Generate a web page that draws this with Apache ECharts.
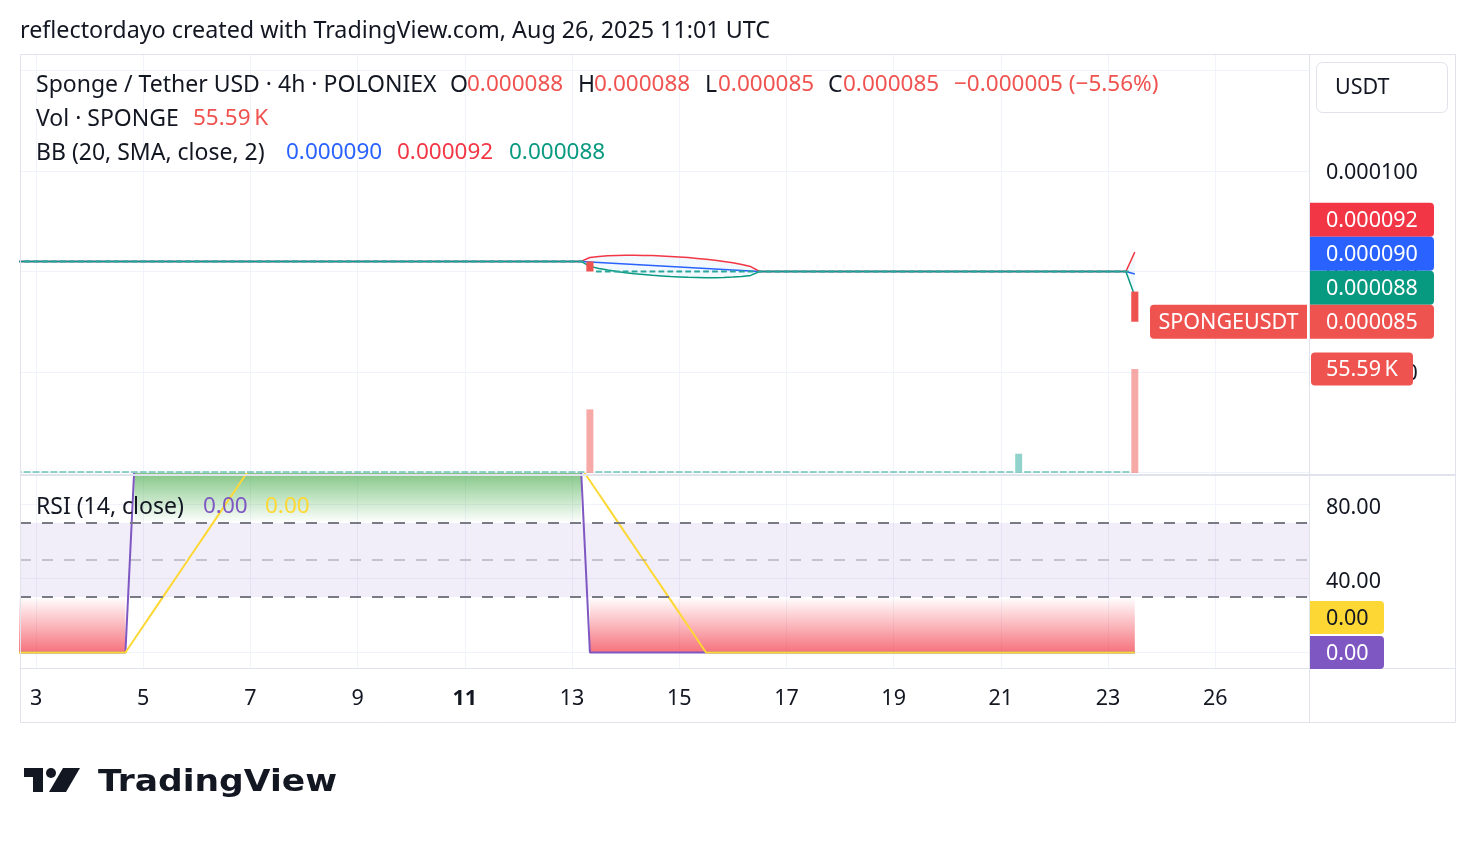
<!DOCTYPE html>
<html>
<head>
<meta charset="utf-8">
<title>SPONGEUSDT 4h · POLONIEX</title>
<script src="https://cdn.jsdelivr.net/npm/echarts@6/dist/echarts.min.js"></script>
<style>
  html, body { margin: 0; padding: 0; background: #fff; }
  #main { width: 1476px; height: 844px; }
</style>
</head>
<body>
<div id="main"></div>
<script>
// 4h bars. bar 0 = Aug 3 00:00 UTC, the arrays start two bars earlier (Aug 2 16:00)
var firstBar = -2;

// prices in units of 0.000001 USDT, 20 bars per row (row start bar in comment)
var openPx = [
  91,91,91,91,91,91,91,91,91,91,91,91,91,91,91,91,91,91,91,91, // -2
  91,91,91,91,91,91,91,91,91,91,91,91,91,91,91,91,91,91,91,91, // 18
  91,91,91,91,91,91,91,91,91,91,91,91,91,91,91,91,91,91,91,91, // 38
  91,91,91,91,91,90,90,90,90,90,90,90,90,90,90,90,90,90,90,90, // 58
  90,90,90,90,90,90,90,90,90,90,90,90,90,90,90,90,90,90,90,90, // 78
  90,90,90,90,90,90,90,90,90,90,90,90,90,90,90,90,90,90,90,90, // 98
  90,90,90,90,90,88                                            // 118
];
var closePx = [
  91,91,91,91,91,91,91,91,91,91,91,91,91,91,91,91,91,91,91,91,
  91,91,91,91,91,91,91,91,91,91,91,91,91,91,91,91,91,91,91,91,
  91,91,91,91,91,91,91,91,91,91,91,91,91,91,91,91,91,91,91,91,
  91,91,91,91,90,90,90,90,90,90,90,90,90,90,90,90,90,90,90,90,
  90,90,90,90,90,90,90,90,90,90,90,90,90,90,90,90,90,90,90,90,
  90,90,90,90,90,90,90,90,90,90,90,90,90,90,90,90,90,90,90,90,
  90,90,90,90,90,85
];
// volume in SPONGE
var volume = [
  0,0,0,0,0,0,0,0,0,0,0,0,0,0,0,0,0,0,0,0,
  0,0,0,0,0,0,0,0,0,0,0,0,0,0,0,0,0,0,0,0,
  0,0,0,0,0,0,0,0,0,0,0,0,0,0,0,0,0,0,0,0,
  0,0,0,0,34000,0,0,0,0,0,0,0,0,0,0,0,0,0,0,0,
  0,0,0,0,0,0,0,0,0,0,0,0,0,0,0,0,0,0,0,0,
  0,0,0,0,0,0,0,0,0,0,0,0,10300,0,0,0,0,0,0,0,
  0,0,0,0,0,55590
];
// Bollinger bands (20, SMA, close, 2), units of 0.000001
var bbUpper = [
  91,91,91,91,91,91,91,91,91,91,91,91,91,91,91,91,91,91,91,91,
  91,91,91,91,91,91,91,91,91,91,91,91,91,91,91,91,91,91,91,91,
  91,91,91,91,91,91,91,91,91,91,91,91,91,91,91,91,91,91,91,91,
  91,91,91,91,91.39,91.5,91.56,91.6,91.62,91.62,91.6,91.58,91.55,91.5,91.45,91.38,91.3,91.22,91.12,91.0,
  90.86,90.7,90.49,90,90,90,90,90,90,90,90,90,90,90,90,90,90,90,90,90,
  90,90,90,90,90,90,90,90,90,90,90,90,90,90,90,90,90,90,90,90,
  90,90,90,90,90,91.93
];
var bbBasis = [
  91,91,91,91,91,91,91,91,91,91,91,91,91,91,91,91,91,91,91,91,
  91,91,91,91,91,91,91,91,91,91,91,91,91,91,91,91,91,91,91,91,
  91,91,91,91,91,91,91,91,91,91,91,91,91,91,91,91,91,91,91,91,
  91,91,91,91,90.95,90.9,90.85,90.8,90.75,90.7,90.65,90.6,90.55,90.5,90.45,90.4,90.35,90.3,90.25,90.2,
  90.15,90.1,90.05,90,90,90,90,90,90,90,90,90,90,90,90,90,90,90,90,90,
  90,90,90,90,90,90,90,90,90,90,90,90,90,90,90,90,90,90,90,90,
  90,90,90,90,90,89.75
];
var bbLower = [
  91,91,91,91,91,91,91,91,91,91,91,91,91,91,91,91,91,91,91,91,
  91,91,91,91,91,91,91,91,91,91,91,91,91,91,91,91,91,91,91,91,
  91,91,91,91,91,91,91,91,91,91,91,91,91,91,91,91,91,91,91,91,
  91,91,91,91,90.51,90.3,90.14,90.0,89.88,89.78,89.7,89.62,89.56,89.5,89.46,89.42,89.4,89.38,89.38,89.4,
  89.44,89.5,89.61,90,90,90,90,90,90,90,90,90,90,90,90,90,90,90,90,90,
  90,90,90,90,90,90,90,90,90,90,90,90,90,90,90,90,90,90,90,90,
  90,90,90,90,90,87.57
];
// RSI (14, close) and its SMA
var rsi = [
  0,0,0,0,0,0,0,0,0,0,0,0,0,100,100,100,100,100,100,100,
  100,100,100,100,100,100,100,100,100,100,100,100,100,100,100,100,100,100,100,100,
  100,100,100,100,100,100,100,100,100,100,100,100,100,100,100,100,100,100,100,100,
  100,100,100,100,0,0,0,0,0,0,0,0,0,0,0,0,0,0,0,0,
  0,0,0,0,0,0,0,0,0,0,0,0,0,0,0,0,0,0,0,0,
  0,0,0,0,0,0,0,0,0,0,0,0,0,0,0,0,0,0,0,0,
  0,0,0,0,0,0
];
var rsiMa = [
  0,0,0,0,0,0,0,0,0,0,0,0,0,7.14,14.29,21.43,28.57,35.71,42.86,50,
  57.14,64.29,71.43,78.57,85.71,92.86,100,100,100,100,100,100,100,100,100,100,100,100,100,100,
  100,100,100,100,100,100,100,100,100,100,100,100,100,100,100,100,100,100,100,100,
  100,100,100,100,92.86,85.71,78.57,71.43,64.29,57.14,50,42.86,35.71,28.57,21.43,14.29,7.14,0,0,0,
  0,0,0,0,0,0,0,0,0,0,0,0,0,0,0,0,0,0,0,0,
  0,0,0,0,0,0,0,0,0,0,0,0,0,0,0,0,0,0,0,0,
  0,0,0,0,0,0
];
// time axis: bar index of each date label
var timeTickBars = [0, 12, 24, 36, 48, 60, 72, 84, 96, 108, 120, 132];
var timeTickLabels = ['3', '5', '7', '9', '11', '13', '15', '17', '19', '21', '23', '26'];
var boldLabel = '11';
var rsiLevels = [70, 50, 30];

var E6 = 1e-6;
var FONT = 'Noto Sans';
var TEXT = '#131722';
var GRID = '#f0f3fa';
var BORDER = '#e0e3eb';
var UP = '#26a69a', DOWN = '#ef5350';
var RED = '#f23645', BLUE = '#2962ff', TEAL = '#089981';
var PURPLE = '#7e57c2', YELLOW = '#fdd835';
var AXF = 21.5;   // axis text size
var LEG = 23;     // legend words
var NUM = 22.5;   // legend numbers

function pts(arr, k) {
  return arr.map(function (v, i) { return [firstBar + i, v === '-' ? '-' : v * k]; });
}

var candleData = openPx.map(function (o, i) { return [firstBar + i, o * E6, closePx[i] * E6]; });
var volData = volume.map(function (v, i) { return [firstBar + i, v, closePx[i] >= openPx[i] ? 1 : 0]; });
// one quad per bar gap for the band background
var bandQuads = [];
for (var i = 0; i < bbUpper.length - 1; i++) {
  bandQuads.push([firstBar + i, bbUpper[i] * E6, bbLower[i] * E6, firstBar + i + 1, bbUpper[i + 1] * E6, bbLower[i + 1] * E6]);
}

function xAxis(gi, withLabels) {
  return {
    type: 'value', gridIndex: gi, min: -1.8, max: 142.5,
    axisLine: { show: false, onZero: false },
    axisTick: { show: false, customValues: timeTickBars },
    axisLabel: {
      show: withLabels, customValues: timeTickBars, margin: 20,
      fontSize: AXF, fontFamily: FONT, color: TEXT,
      formatter: function (v) {
        var t = timeTickLabels[timeTickBars.indexOf(v)];
        return t === boldLabel ? '{b|' + t + '}' : t;
      },
      rich: { b: { fontWeight: 'bold', fontSize: AXF, fontFamily: FONT, color: TEXT } }
    },
    splitLine: { show: true, lineStyle: { color: GRID, width: 1 } }
  };
}

// price-scale labels sit a little below their tick
function shifted(pad) {
  return { a: { fontSize: AXF, fontFamily: FONT, color: TEXT, padding: [pad, 0, 0, 0] } };
}

function line(name, data, color, width, xi, yi) {
  return {
    name: name, type: 'line', data: data, xAxisIndex: xi, yAxisIndex: yi,
    showSymbol: false, silent: true,
    lineStyle: { color: color, width: width }
  };
}

var chart = echarts.init(document.getElementById('main'));

var option = {
  animation: false,
  backgroundColor: '#ffffff',
  textStyle: { fontFamily: FONT },
  grid: [
    { left: 20, top: 54, width: 1289, height: 420, outerBoundsMode: 'none' },
    { left: 20, top: 474, width: 1289, height: 194, outerBoundsMode: 'none' }
  ],
  xAxis: [xAxis(0, false), xAxis(1, true)],
  yAxis: [
    {
      type: 'value', gridIndex: 0, position: 'right',
      min: 0.00006985, max: 0.00011164, splitNumber: 5,
      axisLine: { show: false, onZero: false }, axisTick: { show: false },
      axisLabel: {
        margin: 17, fontSize: AXF, fontFamily: FONT, color: TEXT,
        showMinLabel: false, showMaxLabel: false,
        // the pane edges carry no label
        formatter: function (v) { return (v < 0.000075 || v > 0.000105) ? '' : '{a|' + v.toFixed(6) + '}'; },
        rich: shifted(4)
      },
      splitLine: { lineStyle: { color: GRID, width: 1 } }
    },
    { type: 'value', gridIndex: 0, min: -535, max: 223960, show: false },
    {
      type: 'value', gridIndex: 1, position: 'right', min: -8.4, max: 96.5,
      axisLine: { show: false, onZero: false },
      axisTick: { show: false, customValues: [0, 40, 80] },
      axisLabel: {
        customValues: [40, 80], margin: 17, fontSize: AXF, fontFamily: FONT, color: TEXT,
        formatter: function (v) { return '{a|' + v.toFixed(2) + '}'; },
        rich: shifted(7)
      },
      splitLine: { lineStyle: { color: GRID, width: 1 } }
    }
  ],
  series: [
    {
      name: 'BB background', type: 'custom', xAxisIndex: 0, yAxisIndex: 0, clip: true, silent: true,
      data: bandQuads,
      renderItem: function (params, api) {
        var a = api.coord([api.value(0), api.value(1)]);
        var b = api.coord([api.value(3), api.value(4)]);
        var c = api.coord([api.value(3), api.value(5)]);
        var d = api.coord([api.value(0), api.value(2)]);
        return { type: 'polygon', shape: { points: [a, b, c, d] }, style: { fill: 'rgba(33,150,243,0.06)' } };
      }
    },
    line('Basis', pts(bbBasis, E6), BLUE, 1.5, 0, 0),
    line('Upper', pts(bbUpper, E6), RED, 1.5, 0, 0),
    line('Lower', pts(bbLower, E6), TEAL, 1.5, 0, 0),
    {
      name: 'Vol', type: 'custom', xAxisIndex: 0, yAxisIndex: 1, clip: true, silent: true,
      data: volData,
      renderItem: function (params, api) {
        var x = api.value(0);
        var top = api.coord([x, api.value(1)]);
        var base = api.coord([x, 0]);
        var w = api.size([1, 0])[0] * 0.78;
        var h = Math.max(base[1] - top[1], 2);
        return {
          type: 'rect',
          shape: { x: top[0] - w / 2, y: base[1] - h, width: w, height: h },
          style: { fill: api.value(2) ? 'rgba(38,166,154,0.5)' : 'rgba(239,83,80,0.5)' }
        };
      }
    },
    {
      name: 'SPONGEUSDT', type: 'custom', xAxisIndex: 0, yAxisIndex: 0, clip: true, silent: true, z: 5,
      data: candleData,
      renderItem: function (params, api) {
        var x = api.value(0), o = api.value(1), c = api.value(2);
        var po = api.coord([x, o]), pc = api.coord([x, c]);
        var w = api.size([1, 0])[0] * 0.8;
        var top = Math.min(po[1], pc[1]);
        var h = Math.abs(po[1] - pc[1]);
        if (h < 2) { top = po[1] - 1; h = 2; w = w * 0.8; }
        return {
          type: 'rect',
          shape: { x: po[0] - w / 2, y: top, width: w, height: h },
          style: { fill: c >= o ? UP : DOWN }
        };
      }
    },
    // RSI pane: overbought / oversold gradient fills
    {
      type: 'line', xAxisIndex: 1, yAxisIndex: 2, showSymbol: false, silent: true,
      data: pts(rsi.map(function (v) { return v >= 70 ? v : '-'; }), 1),
      lineStyle: { opacity: 0 },
      areaStyle: {
        origin: 70,
        color: new echarts.graphic.LinearGradient(0, 0, 0, 1, [
          { offset: 0, color: 'rgba(56,160,60,1)' },
          { offset: 0.45, color: 'rgba(76,175,80,0.6)' },
          { offset: 1, color: 'rgba(76,175,80,0)' }
        ])
      }
    },
    {
      type: 'line', xAxisIndex: 1, yAxisIndex: 2, showSymbol: false, silent: true,
      data: pts(rsi.map(function (v) { return v <= 30 ? v : '-'; }), 1),
      lineStyle: { opacity: 0 },
      areaStyle: {
        origin: 30,
        color: new echarts.graphic.LinearGradient(0, 0, 0, 1, [
          { offset: 0, color: 'rgba(242,54,69,0)' },
          { offset: 1, color: 'rgba(242,54,69,1)' }
        ])
      }
    },
    {
      name: 'RSI', type: 'line', xAxisIndex: 1, yAxisIndex: 2, showSymbol: false, silent: true,
      data: pts(rsi, 1),
      lineStyle: { color: PURPLE, width: 2 },
      markArea: {
        silent: true,
        itemStyle: { color: 'rgba(126,87,194,0.1)' },
        data: [[{ yAxis: rsiLevels[0] }, { yAxis: rsiLevels[2] }]]
      },
      markLine: {
        silent: true, symbol: 'none', label: { show: false },
        data: rsiLevels.map(function (lv) {
          return {
            yAxis: lv,
            lineStyle: lv === 50
              ? { color: 'rgba(120,123,134,0.5)', type: [11, 11], width: 1.5 }
              : { color: '#787b86', type: [11, 11], width: 2 }
          };
        })
      }
    },
    line('RSI MA', pts(rsiMa, 1), YELLOW, 2, 1, 2)
  ]
};
chart.setOption(option);

// ---- legends, price tags and frame ----
var n = closePx.length;
var last = n - 1;
function fmt(v) { return (v * E6).toFixed(6); }
var hiPx = Math.max(openPx[last], closePx[last]);
var loPx = Math.min(openPx[last], closePx[last]);
var chg = closePx[last] - closePx[last - 1];
var chgTxt = (chg < 0 ? '\u2212' : '+') + Math.abs(chg * E6).toFixed(6) +
  ' (' + (chg < 0 ? '\u2212' : '+') + Math.abs(chg / closePx[last - 1] * 100).toFixed(2) + '%)';
var volTxt = (volume[last] / 1000).toFixed(2) + '\u2009K';

function yPx(axis, v) { return chart.convertToPixel({ yAxisIndex: axis }, v); }

// stack tags upward from the close tag so they do not overlap
var TAGH = 34;
var closeY = yPx(0, closePx[last] * E6);
var lowerY = Math.min(yPx(0, bbLower[last] * E6), closeY - TAGH);
var basisY = Math.min(yPx(0, bbBasis[last] * E6), lowerY - TAGH);
var upperY = Math.min(yPx(0, bbUpper[last] * E6), basisY - TAGH);
var volY = yPx(1, volume[last]);
var rsiY = yPx(2, rsi[last]);
var rsiMaY = Math.min(yPx(2, rsiMa[last]), rsiY - 35);

function txt(x, y, str, fill, size, extra) {
  var st = { text: str, x: x, y: y, fill: fill, fontSize: size, fontFamily: FONT, verticalAlign: 'middle', align: 'left' };
  if (extra) { for (var k in extra) { st[k] = extra[k]; } }
  return { type: 'text', z: 120, silent: true, style: st };
}

function tag(cy, x, w, h, fill, label, color, r, centered) {
  return [
    { type: 'rect', z: 110, silent: true, shape: { x: x, y: cy - h / 2, width: w, height: h, r: r }, style: { fill: fill } },
    txt(centered ? x + w / 2 : 1326, cy + 1, label, color, AXF, centered ? { align: 'center' } : null)
  ];
}

var g = [];
// frame
g.push({ type: 'rect', z: 100, silent: true, shape: { x: 20.5, y: 54.5, width: 1435, height: 668 }, style: { fill: 'none', stroke: BORDER, lineWidth: 1 } });
g.push({ type: 'line', z: 100, silent: true, shape: { x1: 1309.5, y1: 54, x2: 1309.5, y2: 723 }, style: { stroke: BORDER, lineWidth: 1 } });
g.push({ type: 'line', z: 100, silent: true, shape: { x1: 20, y1: 475, x2: 1456, y2: 475 }, style: { stroke: BORDER, lineWidth: 2 } });
g.push({ type: 'line', z: 100, silent: true, shape: { x1: 20, y1: 668.5, x2: 1456, y2: 668.5 }, style: { stroke: BORDER, lineWidth: 1 } });

// header
g.push(txt(20, 31, 'reflectordayo created with TradingView.com, Aug 26, 2025 11:01 UTC', TEXT, 23.3));

// legend rows: [y, [x, text, colour, size]]
var legendRows = [
  [85, [[36, 'Sponge / Tether USD \u00b7 4h \u00b7 POLONIEX', TEXT, LEG],
        [450, 'O', TEXT, LEG], [467, fmt(openPx[last]), DOWN, NUM],
        [578, 'H', TEXT, LEG], [594, fmt(hiPx), DOWN, NUM],
        [705, 'L', TEXT, LEG], [718, fmt(loPx), DOWN, NUM],
        [828, 'C', TEXT, LEG], [843, fmt(closePx[last]), DOWN, NUM],
        [954, chgTxt, DOWN, NUM]]],
  [119, [[36, 'Vol \u00b7 SPONGE', TEXT, LEG], [193, volTxt, DOWN, NUM]]],
  [153, [[36, 'BB (20, SMA, close, 2)', TEXT, LEG], [286, fmt(bbBasis[last]), BLUE, NUM],
         [397, fmt(bbUpper[last]), RED, NUM], [509, fmt(bbLower[last]), TEAL, NUM]]],
  [507, [[36, 'RSI (14, close)', TEXT, LEG], [203, rsi[last].toFixed(2), PURPLE, NUM],
         [265, rsiMa[last].toFixed(2), YELLOW, NUM]]]
];
legendRows.forEach(function (row) {
  row[1].forEach(function (seg) { g.push(txt(seg[0], row[0], seg[1], seg[2], seg[3])); });
});

// currency box
g.push({ type: 'rect', z: 110, silent: true, shape: { x: 1316.5, y: 62.5, width: 131, height: 50, r: 6 }, style: { fill: '#fff', stroke: BORDER, lineWidth: 1 } });
g.push(txt(1335, 88, 'USDT', TEXT, AXF));

// price scale tags
g = g.concat(tag(upperY, 1310, 124, TAGH, RED, fmt(bbUpper[last]), '#fff', [0, 4, 4, 0]));
g = g.concat(tag(basisY, 1310, 124, TAGH, BLUE, fmt(bbBasis[last]), '#fff', [0, 4, 4, 0]));
g = g.concat(tag(lowerY, 1310, 124, TAGH, TEAL, fmt(bbLower[last]), '#fff', [0, 4, 4, 0]));
g = g.concat(tag(closeY, 1310, 124, TAGH, DOWN, fmt(closePx[last]), '#fff', [0, 4, 4, 0]));
g = g.concat(tag(closeY, 1150, 157, TAGH, DOWN, 'SPONGEUSDT', '#fff', [4, 0, 0, 4], true));
g = g.concat(tag(volY, 1311, 102, 33, DOWN, volTxt, '#fff', 4));
g = g.concat(tag(rsiMaY, 1310, 74, 33, YELLOW, rsiMa[last].toFixed(2), TEXT, [0, 4, 4, 0]));
g = g.concat(tag(rsiY, 1310, 74, 33, PURPLE, rsi[last].toFixed(2), '#fff', [0, 4, 4, 0]));

// TradingView logo
g.push({ type: 'polygon', z: 120, silent: true, shape: { points: [[24, 768], [43, 768], [43, 792], [33, 792], [33, 777], [24, 777]] }, style: { fill: TEXT } });
g.push({ type: 'circle', z: 120, silent: true, shape: { cx: 51, cy: 773, r: 5 }, style: { fill: TEXT } });
g.push({ type: 'polygon', z: 120, silent: true, shape: { points: [[63, 768], [80, 768], [66, 792], [49, 792]] }, style: { fill: TEXT } });
g.push({
  type: 'text', z: 120, silent: true, x: 98, y: 783, scaleX: 1.15,
  style: { text: 'TradingView', x: 0, y: 0, fill: TEXT, fontSize: 30, fontWeight: 'bold', fontFamily: 'DejaVu Sans', verticalAlign: 'middle' }
});

chart.setOption({ graphic: g });
</script>
</body>
</html>
